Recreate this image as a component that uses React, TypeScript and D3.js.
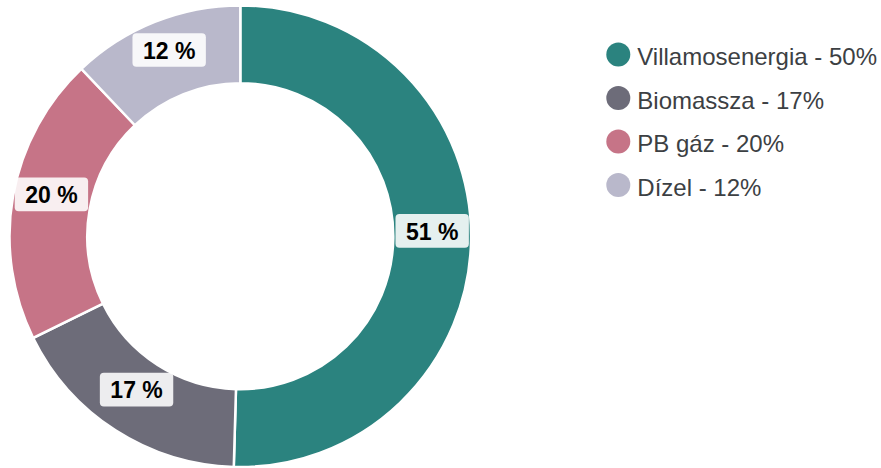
import React from "react";
import * as d3 from "d3";

const categories = ["Villamosenergia", "Biomassza", "PB gáz", "Dízel"];
const values = [50.5, 17.3, 20.2, 12.1];
const sliceLabels = ["51 %", "17 %", "20 %", "12 %"];
const legendLabels = ["Villamosenergia - 50%", "Biomassza - 17%", "PB gáz - 20%", "Dízel - 12%"];
const colors = ["#2b837f", "#6d6c79", "#c67487", "#b9b8cb"];

const W = 881;
const H = 468;
const cx = 240.3;
const cy = 236.2;
const outerR = 230.8;
const innerR = 153;

export default function App() {
  const pie = d3.pie<number>().sort(null).value((d) => d);
  const arcs = pie(values);
  const arc = d3.arc<d3.PieArcDatum<number>>().innerRadius(innerR).outerRadius(outerR);
  const font = "Arial, 'Liberation Sans', sans-serif";
  const legendY = d3.scalePoint<number>().domain(d3.range(categories.length)).range([54.5, 185]);

  return (
    <svg width={W} height={H} style={{ position: "absolute", left: 0, top: 0 }} fontFamily={font}>
      <g transform={`translate(${cx},${cy})`}>
        {arcs.map((a, i) => (
          <path key={i} d={arc(a) || ""} fill={colors[i]} stroke="#fff" strokeWidth={2.5} />
        ))}
        {arcs.map((a, i) => {
          const [x, y] = arc.centroid(a);
          const label = sliceLabels[i];
          const bw = 73.4;
          const bh = 33.6;
          const by = y - 8;
          return (
            <g key={"l" + i}>
              <rect x={x - bw / 2} y={by - bh / 2} width={bw} height={bh} rx={4} fill="#fff" fillOpacity={0.88} />
              <text x={x} y={by + 8.6} textAnchor="middle" fontSize={23} fontWeight="bold" fill="#000">
                {label}
              </text>
            </g>
          );
        })}
      </g>
      <g>
        {categories.map((c, i) => (
          <g key={c} transform={`translate(618.3,${legendY(i)})`}>
            <circle r={12} fill={colors[i]} />
            <text x={19} y={10.8} fontSize={24} fill="#3c4043">
              {legendLabels[i]}
            </text>
          </g>
        ))}
      </g>
    </svg>
  );
}
